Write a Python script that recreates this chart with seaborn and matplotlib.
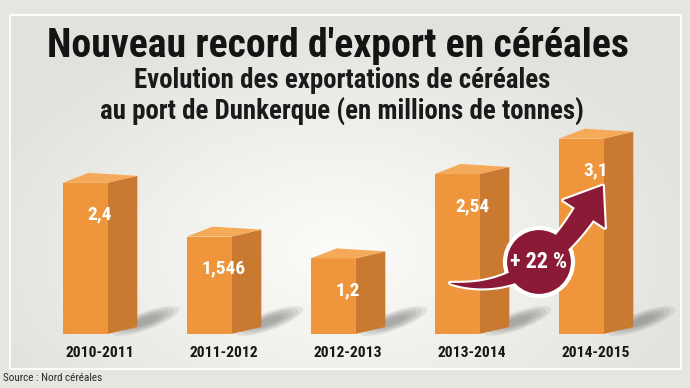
import numpy as np
import matplotlib
matplotlib.use("Agg")
import matplotlib.pyplot as plt
import seaborn as sns
import pandas as pd
from matplotlib import font_manager
from matplotlib.patches import Polygon, Rectangle, Ellipse
from matplotlib.colors import LinearSegmentedColormap

# ---------------- data ----------------
seasons = ["2010-2011", "2011-2012", "2012-2013", "2013-2014", "2014-2015"]
exports = [2.4, 1.546, 1.2, 2.54, 3.1]
value_labels = ["2,4", "1,546", "1,2", "2,54", "3,1"]
growth_label = "+ 22 %"
title = "Nouveau record d'export en céréales"
subtitle_1 = "Evolution des exportations de céréales"
subtitle_2 = "au port de Dunkerque (en millions de tonnes)"
source = "Source : Nord céréales"

# ---------------- style ----------------
sns.set_theme(style="white")
names = {f.name for f in font_manager.fontManager.ttflist}
cands = ["Liberation Sans Narrow", "Roboto Condensed", "Open Sans Condensed",
         "Noto Sans Condensed", "DejaVu Sans Condensed"]
FAM = next((c for c in cands if c in names), "DejaVu Sans")
plt.rcParams["font.family"] = [FAM, "DejaVu Sans"]

FRONT = "#ef963d"
SIDE = "#c97a30"
TOP = "#f5aa5a"
ARROW = "#8b1a36"

W, H = 690, 388
fig = plt.figure(figsize=(W / 100, H / 100), dpi=100)
fig.patch.set_facecolor("#e6e6e1")

# background panel with soft radial gradient
bg = fig.add_axes([0, 0, 1, 1], zorder=0)
bg.set_xlim(0, W)
bg.set_ylim(H, 0)
bg.axis("off")
yy, xx = np.mgrid[15:369, 10:681]
r = np.sqrt(((xx - 335) / 380.0) ** 2 + ((yy - 250) / 240.0) ** 2)
r = np.clip(r, 0, 1)
cmap = LinearSegmentedColormap.from_list("bg", ["#fcfcfa", "#efefeb", "#e2e2dd"])
bg.imshow(r, cmap=cmap, extent=(10, 681, 369, 15), aspect="auto",
          vmin=0, vmax=1, interpolation="bilinear")
bg.add_patch(Rectangle((10, 15), 671, 354, fill=False, edgecolor="white", lw=1.3))

# ---------------- main axes ----------------
ax = fig.add_axes([0, 0, 1, 1], zorder=1)
ax.patch.set_alpha(0)
df = pd.DataFrame({"season": seasons, "exports": exports})
sns.barplot(data=df, x="season", y="exports", width=0.36, color=FRONT,
            saturation=1, errorbar=None, ax=ax, zorder=3, linewidth=0)

X0, SX = 85.0, 124.0   # pixel of first category, pixels per category
Y0, SY = 54.0, 63.0    # pixel of baseline from bottom, pixels per unit
ax.set_xlim(-X0 / SX, (W - X0) / SX)
ax.set_ylim(-Y0 / SY, (H - Y0) / SY)
ax.axis("off")


def to_data(pts):
    pts = np.asarray(pts, dtype=float)
    return np.column_stack([(pts[:, 0] - X0) / SX, (H - pts[:, 1] - Y0) / SY])


bars = sorted([p for p in ax.patches if isinstance(p, Rectangle)], key=lambda p: p.get_x())
dxu, dyu = 30 / SX, 7 / SY
renderer = fig.canvas.get_renderer()


def fit(t, target):
    bb = t.get_window_extent(renderer)
    t.set_fontsize(t.get_fontsize() * target / bb.width)
    return t.get_fontsize()


val_texts, cat_texts = [], []
for p, lab, cat in zip(bars, value_labels, seasons):
    x0, w, h = p.get_x(), p.get_width(), p.get_height()
    # shadow (soft, layered)
    bx = (x0 + w) * SX + X0
    by = H - Y0
    th = np.radians(20)
    tt = np.linspace(0, 2 * np.pi, 60)
    for s in [1.0, 0.85, 0.7, 0.55, 0.4]:
        a, b = 36 * s, 9 * s
        ex = bx + 38 + a * np.cos(tt) * np.cos(th) - b * np.sin(tt) * np.sin(th)
        ey = by - 13 - (a * np.cos(tt) * np.sin(th) + b * np.sin(tt) * np.cos(th))
        ax.add_patch(Polygon(to_data(np.column_stack([ex, ey])), closed=True,
                             facecolor="#4a4a4a", alpha=0.10, lw=0, zorder=2))
    # side face
    ax.add_patch(Polygon([(x0 + w, 0), (x0 + w + dxu, dyu), (x0 + w + dxu, h + dyu),
                          (x0 + w, h)], closed=True, facecolor=SIDE, lw=0, zorder=3))
    # top face
    ax.add_patch(Polygon([(x0, h), (x0 + w, h), (x0 + w + dxu, h + dyu),
                          (x0 + 26 / SX, h + 10 / SY)], closed=True,
                         facecolor=TOP, lw=0, zorder=3))
    cx = x0 + (w + dxu) / 2
    val_texts.append(ax.text(cx, h - 32 / SY, lab, color="white", fontsize=15,
                             fontweight="bold", ha="center", va="center", zorder=4))
    cat_texts.append(ax.text(cx, -23 / SY, cat, color="#161616", fontsize=14,
                             fontweight="bold", ha="center", va="baseline", zorder=4))

fs = fit(val_texts[1], 44)
for t in val_texts:
    t.set_fontsize(fs)
fs = fit(cat_texts[0], 68)
for t in cat_texts:
    t.set_fontsize(fs)

# ---------------- growth arrow ----------------
A = np.array([450.0, 283.0])
E = np.array([584.0, 214.0])
d_end = np.array([0.55, -0.83])
d_end /= np.linalg.norm(d_end)
C = E - 100 * d_end
ts = np.linspace(0, 1, 80)
P = ((1 - ts) ** 2)[:, None] * A + (2 * ts * (1 - ts))[:, None] * C + (ts ** 2)[:, None] * E
D = (2 * (1 - ts))[:, None] * (C - A) + (2 * ts)[:, None] * (E - C)
D /= np.linalg.norm(D, axis=1)[:, None]
N = np.column_stack([D[:, 1], -D[:, 0]])
wid = 22 * ts ** 0.7
left = P + N * (wid / 2)[:, None]
right = P - N * (wid / 2)[:, None]
n_end = N[-1]
tip = E + 34 * d_end
head = [E + n_end * 25, tip, E - n_end * 25]
arrow_pts = np.vstack([left, head, right[::-1]])
arrow_data = to_data(arrow_pts)
ax.add_patch(Polygon(arrow_data, closed=True, facecolor=ARROW, edgecolor="white",
                     lw=3, zorder=5, joinstyle="round"))
cc = to_data([[539, 262]])[0]
ax.add_patch(Ellipse(cc, width=68 / SX, height=68 / SY, facecolor=ARROW,
                     edgecolor="white", lw=3, zorder=6))
ax.add_patch(Polygon(arrow_data, closed=True, facecolor=ARROW, lw=0, zorder=7))
gt = ax.text(cc[0], cc[1], growth_label, color="white", fontsize=14,
             fontweight="bold", ha="center", va="center", zorder=8)
fit(gt, 57)

# ---------------- titles ----------------
t1 = fig.text(338 / W, 1 - 57 / H, title, ha="center", va="baseline", fontsize=24,
              fontweight="bold", color="#141414")
fit(t1, 584)
t3 = fig.text(342 / W, 1 - 120 / H, subtitle_2, ha="center", va="baseline", fontsize=18,
              fontweight="bold", color="#1a1a1a")
fs = fit(t3, 483)
t2 = fig.text(342 / W, 1 - 88 / H, subtitle_1, ha="center", va="baseline", fontsize=fs,
              fontweight="bold", color="#1a1a1a")
t4 = fig.text(3 / W, 1 - 381 / H, source, ha="left", va="baseline", fontsize=9,
              color="#2a2a2a")
fit(t4, 100)

fig.savefig("out.png", dpi=100, facecolor=fig.get_facecolor())
